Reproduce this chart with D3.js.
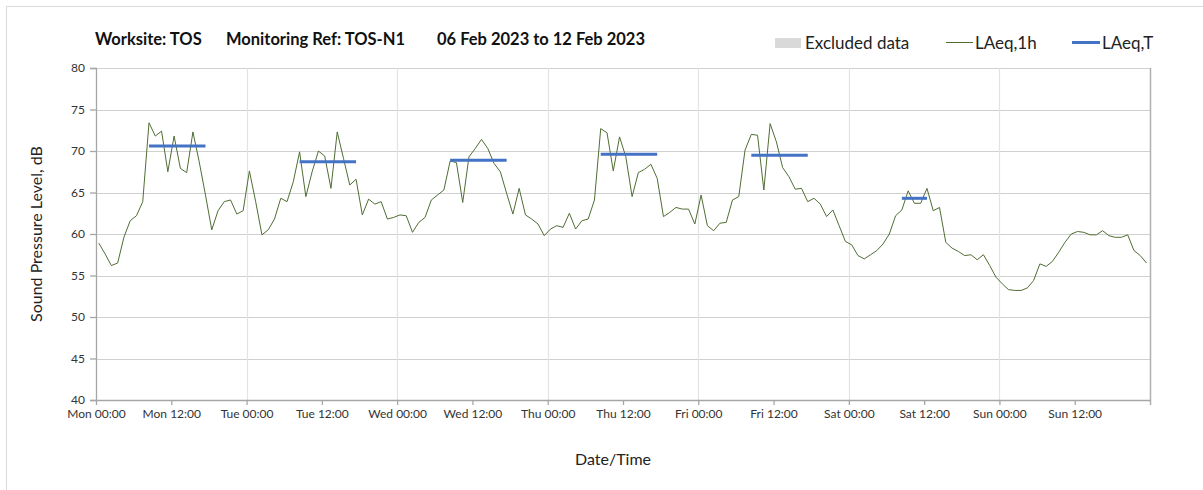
<!DOCTYPE html>
<html lang="en">
<head>
    <meta charset="UTF-8" />
    <title>Noise monitoring TOS-N1</title>
    <script src="https://d3js.org/d3.v7.min.js"></script>
    <style>
        body { margin: 0; background: #fff; }
        svg text { font-family: Lato, "Open Sans", sans-serif; }
    </style>
</head>
<body>
    <script>
        var w = 1203;
        var h = 490;

        // hourly LAeq,1h values, Mon 00:00 .. Sun 23:00
        var laeq1h = [
            58.9, 57.6, 56.2, 56.5, 59.6, 61.6, 62.2, 63.9, 73.4, 71.8, 72.4, 67.5,
            71.8, 67.9, 67.4, 72.3, 68.7, 64.7, 60.5, 62.8, 63.9, 64.1, 62.4, 62.8,
            67.6, 63.9, 59.9, 60.5, 61.8, 64.3, 63.9, 66.3, 69.9, 64.5, 67.5, 70.0,
            69.4, 65.5, 72.3, 69.1, 65.9, 66.6, 62.3, 64.2, 63.6, 63.9, 61.8, 62.0,
            62.3, 62.2, 60.2, 61.4, 62.0, 64.1, 64.7, 65.3, 68.8, 68.6, 63.8, 69.3,
            70.3, 71.4, 70.3, 68.5, 67.5, 64.9, 62.4, 65.5, 62.3, 61.8, 61.2, 59.8,
            60.6, 61.0, 60.8, 62.5, 60.6, 61.6, 61.8, 64.1, 72.7, 72.2, 67.6, 71.7,
            69.3, 64.5, 67.4, 67.8, 68.4, 66.7, 62.1, 62.6, 63.2, 63.0, 63.0, 61.2,
            64.7, 61.0, 60.4, 61.3, 61.4, 64.1, 64.5, 70.1, 72.0, 71.9, 65.3, 73.3,
            71.1, 68.0, 66.9, 65.4, 65.5, 63.9, 64.3, 63.6, 62.1, 62.9, 61.0, 59.1,
            58.7, 57.4, 57.0, 57.5, 58.0, 58.8, 60.0, 62.2, 62.9, 65.2, 63.7, 63.7,
            65.5, 62.8, 63.2, 59.0, 58.3, 57.9, 57.4, 57.5, 56.9, 57.5, 56.2, 54.8,
            54.0, 53.3, 53.2, 53.2, 53.5, 54.4, 56.4, 56.1, 56.7, 57.8, 59.0, 60.0,
            60.3, 60.2, 59.9, 59.9, 60.4, 59.8, 59.6, 59.6, 59.9, 58.0, 57.4, 56.5
        ];

        // LAeq,T periods (hour index from / to)
        var periodStart = [8, 32, 56, 80, 104, 128];
        var periodEnd = [17, 41, 65, 89, 113, 132];
        var laeqT = [70.6, 68.7, 68.9, 69.6, 69.5, 64.3];

        var tickLabels = ["Mon 00:00", "Mon 12:00", "Tue 00:00", "Tue 12:00", "Wed 00:00",
            "Wed 12:00", "Thu 00:00", "Thu 12:00", "Fri 00:00", "Fri 12:00",
            "Sat 00:00", "Sat 12:00", "Sun 00:00", "Sun 12:00"];
        var yTicks = [40, 45, 50, 55, 60, 65, 70, 75, 80];

        var margin = { left: 96, right: 1150, top: 68, bottom: 400 };

        var svg = d3.select("body")
            .append("svg")
            .attr("width", w)
            .attr("height", h);

        // outer chart border
        svg.append("rect")
            .attr("x", 6.5).attr("y", 6.5)
            .attr("width", w + 10).attr("height", h + 10)
            .attr("fill", "none")
            .attr("stroke", "#d9d9d9");

        // Scales
        var xScale = d3.scaleLinear()
            .domain([0, 168])
            .range([margin.left, margin.right]);

        var yScale = d3.scaleLinear()
            .domain([40, 80])
            .range([margin.bottom, margin.top]);

        // horizontal grid
        svg.append("g")
            .selectAll("line")
            .data(yTicks.slice(1))
            .enter()
            .append("line")
            .attr("x1", margin.left).attr("x2", margin.right)
            .attr("y1", function(d) { return Math.round(yScale(d)) + 0.5; })
            .attr("y2", function(d) { return Math.round(yScale(d)) + 0.5; })
            .attr("stroke", "#d0d0d0")
            .attr("stroke-width", 1.2);

        // vertical grid (days)
        svg.append("g")
            .selectAll("line")
            .data(d3.range(24, 168, 24))
            .enter()
            .append("line")
            .attr("x1", function(d) { return Math.round(xScale(d)) + 0.5; })
            .attr("x2", function(d) { return Math.round(xScale(d)) + 0.5; })
            .attr("y1", margin.top).attr("y2", margin.bottom)
            .attr("stroke", "#e3e3e3")
            .attr("stroke-width", 1.2);

        // right border
        svg.append("line")
            .attr("x1", margin.right + 0.5).attr("x2", margin.right + 0.5)
            .attr("y1", margin.top).attr("y2", margin.bottom + 5)
            .attr("stroke", "#b0b0b0")
            .attr("stroke-width", 1.5);

        // Y axis
        var yAxis = d3.axisLeft(yScale)
            .tickValues(yTicks)
            .tickSize(6)
            .tickPadding(5);

        var gy = svg.append("g")
            .attr("transform", "translate(" + margin.left + ",0)")
            .call(yAxis);
        gy.selectAll("text").attr("font-size", 12).attr("fill", "#333");

        // X axis
        var xAxis = d3.axisBottom(xScale)
            .tickValues(d3.range(0, 168, 12))
            .tickFormat(function(d, i) { return tickLabels[i]; })
            .tickSize(5)
            .tickPadding(4);

        var gx = svg.append("g")
            .attr("transform", "translate(0," + margin.bottom + ")")
            .call(xAxis);
        gx.selectAll("text").attr("font-size", 12).attr("fill", "#333");

        svg.selectAll(".domain, .tick line")
            .attr("stroke", "#a6a6a6")
            .attr("stroke-width", 1.3);
        gx.select(".domain").attr("d", "M" + margin.left + ",0.5H" + (margin.right + 1));

        // LAeq,1h line
        var line = d3.line()
            .x(function(d, i) { return xScale(i + 0.45); })
            .y(function(d) { return yScale(d); });

        svg.append("path")
            .datum(laeq1h)
            .attr("d", line)
            .attr("fill", "none")
            .attr("stroke", "#506d34")
            .attr("stroke-width", 1);

        // LAeq,T bars
        svg.append("g")
            .selectAll("line")
            .data(laeqT)
            .enter()
            .append("line")
            .attr("x1", function(d, i) { return xScale(periodStart[i] + 0.45); })
            .attr("x2", function(d, i) { return xScale(periodEnd[i] + 0.45); })
            .attr("y1", function(d) { return yScale(d); })
            .attr("y2", function(d) { return yScale(d); })
            .attr("stroke", "#4472c4")
            .attr("stroke-width", 3);

        // Title
        var title = svg.append("g").attr("font-weight", "bold").attr("font-size", 16.5).attr("fill", "#111");
        title.append("text").attr("x", 95).attr("y", 45).text("Worksite: TOS");
        title.append("text").attr("x", 226).attr("y", 45).text("Monitoring Ref: TOS-N1");
        title.append("text").attr("x", 437).attr("y", 45).text("06 Feb 2023 to 12 Feb 2023");

        // Legend
        var legend = svg.append("g").attr("font-size", 17).attr("fill", "#222");
        legend.append("rect")
            .attr("x", 775).attr("y", 38).attr("width", 26).attr("height", 10)
            .attr("fill", "#d9d9d9");
        legend.append("text").attr("x", 805).attr("y", 48.5).text("Excluded data");
        legend.append("line")
            .attr("x1", 946).attr("x2", 973).attr("y1", 42.5).attr("y2", 42.5)
            .attr("stroke", "#506d34").attr("stroke-width", 1);
        legend.append("text").attr("x", 975).attr("y", 48.5).text("LAeq,1h");
        legend.append("line")
            .attr("x1", 1072).attr("x2", 1100).attr("y1", 42.5).attr("y2", 42.5)
            .attr("stroke", "#4472c4").attr("stroke-width", 3);
        legend.append("text").attr("x", 1102).attr("y", 48.5).text("LAeq,T");

        // Axis titles
        svg.append("text")
            .attr("transform", "translate(42,234) rotate(-90)")
            .attr("text-anchor", "middle")
            .attr("font-size", 16)
            .attr("fill", "#222")
            .text("Sound Pressure Level, dB");

        svg.append("text")
            .attr("x", 613).attr("y", 465)
            .attr("text-anchor", "middle")
            .attr("font-size", 16)
            .attr("fill", "#222")
            .text("Date/Time");
    </script>
</body>
</html>
